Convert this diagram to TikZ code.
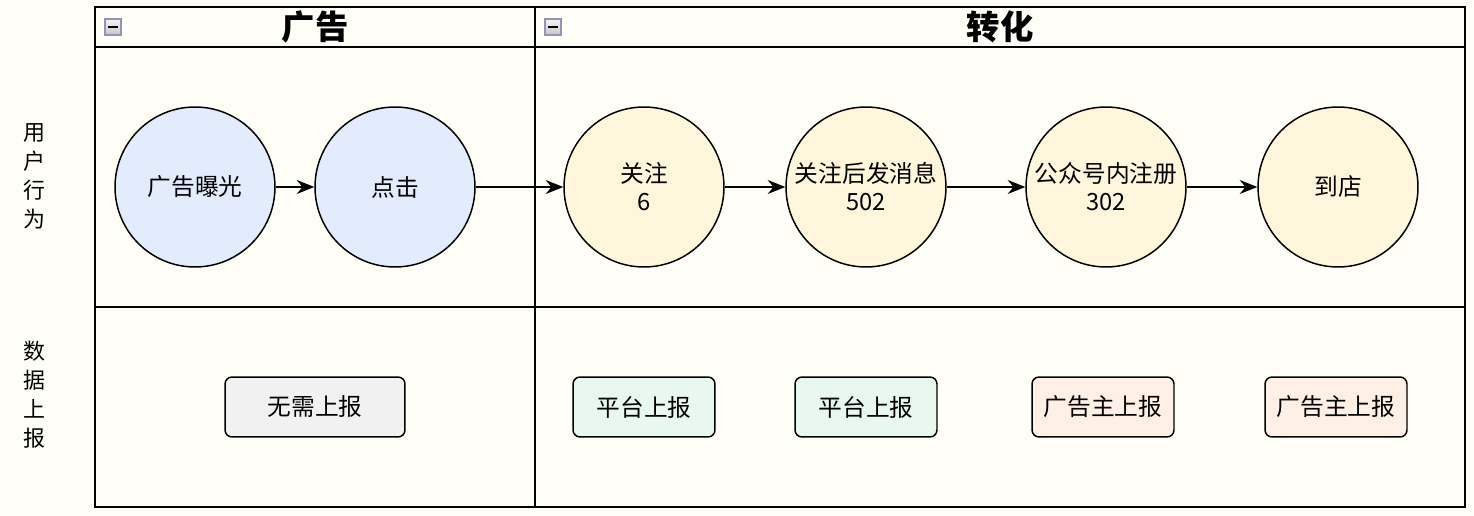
\documentclass[tikz,border=0pt]{standalone}
\usepackage{fontspec}
\setmainfont{Noto Sans CJK SC}
\usetikzlibrary{arrows.meta,positioning}
\definecolor{paperbg}{HTML}{FFFFF8}
\definecolor{adblue}{HTML}{E2ECFC}
\definecolor{convyellow}{HTML}{FFF6DC}
\definecolor{rptgray}{HTML}{F1F1F1}
\definecolor{rptgreen}{HTML}{E8F8EE}
\definecolor{rptpink}{HTML}{FFF0E6}

\tikzset{
  lane/.style={draw=black, line width=1.1pt},
  stage/.style={circle, draw=black, line width=0.85pt, minimum size=3.2cm,
                inner sep=0pt, align=center, font=\fontsize{13.5}{16}\selectfont},
  report/.style={draw=black, line width=0.85pt, rounded corners=4pt,
                 minimum height=1.2cm, minimum width=2.84cm, inner sep=0pt,
                 font=\fontsize{13.5}{16}\selectfont},
  flow/.style={-{Stealth[length=10pt,width=8pt]}, line width=0.85pt},
  lanehead/.style={font=\fontsize{19}{22}\selectfont\bfseries},
  rowlabel/.style={align=center, font=\fontsize{12.5}{16.5}\selectfont},
  foldbox/.style={draw=gray!80!blue!70, top color=gray!8, bottom color=gray!45,
                  minimum size=0.32cm, inner sep=0pt, line width=0.7pt}
}

\begin{document}
\begin{tikzpicture}[x=0.02cm, y=-0.02cm]
    \useasboundingbox[fill=paperbg] (0,0) rectangle (1474,516);

    % swimlane frame
    \draw[lane] (95,7) rectangle (1465,507);
    \draw[lane] (95,47) -- (1465,47);
    \draw[lane] (95,307) -- (1465,307);
    \draw[lane] (535,7) -- (535,507);

    % lane headers
    \node[foldbox] (foldad) at (113,27) {};
    \draw[line width=1.4pt] ([xshift=2.2pt]foldad.west) -- ([xshift=-2.2pt]foldad.east);
    \node[foldbox] (foldconv) at (553,27) {};
    \draw[line width=1.4pt] ([xshift=2.2pt]foldconv.west) -- ([xshift=-2.2pt]foldconv.east);
    \node[lanehead] (headad) at (315,27) {广告};
    \node[lanehead] (headconv) at (1000,27) {转化};

    % row labels
    \node[rowlabel] (rowuser) at (34,176) {用\\户\\行\\为};
    \node[rowlabel] (rowdata) at (34,395) {数\\据\\上\\报};

    % user behaviour
    \node[stage, fill=adblue] (expose) at (195,187) {广告曝光};
    \node[stage, fill=adblue] (click) at (395,187) {点击};
    \node[stage, fill=convyellow] (follow) at (644,187) {关注\\6};
    \node[stage, fill=convyellow] (message) at (866,187) {关注后发消息\\502};
    \node[stage, fill=convyellow] (register) at (1106,187) {公众号内注册\\302};
    \node[stage, fill=convyellow] (visit) at (1338,187) {到店};

    \draw[flow] (expose) -- (click);
    \draw[flow] (click) -- (follow);
    \draw[flow] (follow) -- (message);
    \draw[flow] (message) -- (register);
    \draw[flow] (register) -- (visit);

    % data reporting
    \node[report, fill=rptgray, minimum width=3.6cm] (noreport) at (315,407) {无需上报};
    \node[report, fill=rptgreen] (platfollow) at (644,407) {平台上报};
    \node[report, fill=rptgreen] (platmsg) at (866,407) {平台上报};
    \node[report, fill=rptpink] (advreg) at (1103,407) {广告主上报};
    \node[report, fill=rptpink] (advvisit) at (1336,407) {广告主上报};
  \end{tikzpicture}
\end{document}
